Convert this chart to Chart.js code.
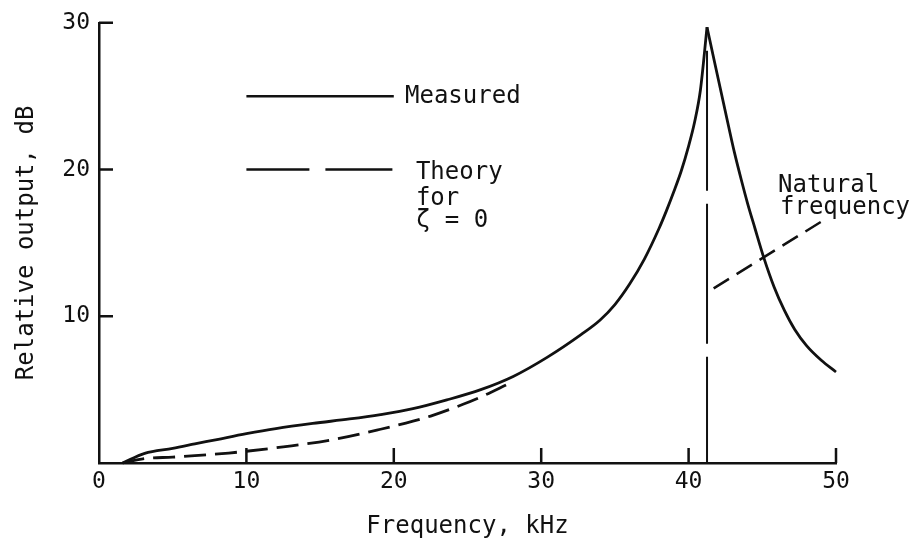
<!DOCTYPE html>
<html>
<head>
<meta charset="utf-8">
<script src="https://cdn.jsdelivr.net/npm/chart.js@4"></script>
<style>
  html, body { margin: 0; padding: 0; background: #fff; }
  #wrap { width: 913px; height: 545px; }
</style>
</head>
<body>
<div id="wrap"><canvas id="c" width="913" height="545"></canvas></div>
<script>
// ---- data ----
const measuredFreq = [1.6, 3.1, 5, 6.5, 8, 10, 12, 14.5, 17, 19.1, 21.3, 23.6, 25.9, 28.1, 30.4, 32.7, 34, 35, 36, 37, 38, 38.5, 39, 39.5, 40, 40.4, 40.8, 41.25,
                      41.7, 42.2, 42.7, 43.1, 43.6, 44.0, 44.5, 45.1, 45.8, 46.5, 47.2, 48.0, 49.0, 50.0];
const measuredDb   = [0, 0.66, 1.0, 1.3, 1.6, 2.0, 2.35, 2.7, 3.0, 3.3, 3.7, 4.3, 5.0, 5.9, 7.2, 8.75, 9.75, 10.8, 12.2, 13.9, 16.0, 17.2, 18.5, 19.9, 21.6, 23.2, 25.4, 29.7,
                      27.6, 25.3, 23.0, 21.2, 19.2, 17.7, 16.0, 14.0, 12.0, 10.4, 9.1, 8.0, 7.0, 6.2];
const theoryFreq   = [1.6, 3.1, 5, 6.5, 8.8, 10, 12.5, 15.7, 19.1, 21.3, 22.5, 24.7, 25.9, 27.8];
const theoryDb     = [0, 0.3, 0.4, 0.5, 0.68, 0.8, 1.1, 1.56, 2.3, 2.85, 3.2, 4.0, 4.5, 5.4];
const naturalFreq  = 41.25;
const naturalTop   = 28.1;
const leaderFreq   = [41.7, 49.4];
const leaderDb     = [11.9, 16.7];
const legendFreq   = [10, 20];
const legendMeasuredDb = 25;
const legendTheoryDb   = 20;
const xTicks = [0, 10, 20, 30, 40, 50];
const yTicks = [10, 20, 30];
const texts = [
  { t: "Measured",  x: 20.76, y: 24.97 },
  { t: "Theory",    x: 21.5,  y: 19.8 },
  { t: "for",       x: 21.5,  y: 18.0 },
  { t: "ζ = 0",     x: 21.5,  y: 16.5 },
  { t: "Natural",   x: 46.07, y: 18.9 },
  { t: "frequency", x: 46.2,  y: 17.4 }
];

// ---- build datasets ----
const pk = measuredDb.indexOf(Math.max(...measuredDb));
const pts = (xs, ys) => xs.map((x, i) => ({ x: x, y: ys[i] }));
const rise = pts(measuredFreq.slice(0, pk + 1), measuredDb.slice(0, pk + 1));
const fall = pts(measuredFreq.slice(pk), measuredDb.slice(pk));
const INK = '#111';
const FONT = "'DejaVu Sans Mono', 'Liberation Mono', monospace";

const base = { borderColor: INK, pointRadius: 0, fill: false, clip: false };

const innerTicks = {
  id: 'innerTicks',
  afterDraw(chart) {
    const { ctx, scales: { x, y } } = chart;
    ctx.save();
    ctx.strokeStyle = INK;
    ctx.lineWidth = 2.5;
    ctx.beginPath();
    xTicks.forEach(v => {
      if (v === 0) return;
      const px = x.getPixelForValue(v);
      ctx.moveTo(px, y.bottom);
      ctx.lineTo(px, y.bottom - 15);
    });
    yTicks.forEach(v => {
      const py = y.getPixelForValue(v);
      ctx.moveTo(x.left, py);
      ctx.lineTo(x.left + 14, py);
    });
    ctx.stroke();
    ctx.fillStyle = INK;
    ctx.font = "24px " + FONT;
    ctx.textAlign = 'left';
    ctx.textBaseline = 'middle';
    texts.forEach(o => {
      ctx.fillText(o.t, x.getPixelForValue(o.x), y.getPixelForValue(o.y));
    });
    ctx.restore();
  }
};

new Chart(document.getElementById('c'), {
  type: 'line',
  data: {
    datasets: [
      { ...base, data: rise, borderWidth: 2.8, cubicInterpolationMode: 'monotone' },
      { ...base, data: fall, borderWidth: 2.8, cubicInterpolationMode: 'monotone' },
      { ...base, data: pts(theoryFreq, theoryDb), borderWidth: 2.8, borderDash: [22, 9], cubicInterpolationMode: 'monotone' },
      { ...base, data: [{ x: naturalFreq, y: naturalTop }, { x: naturalFreq, y: 0 }], borderWidth: 2, borderDash: [140, 13] },
      { ...base, data: pts(leaderFreq, leaderDb), borderWidth: 2.5, borderDash: [18, 9] },
      { ...base, data: pts(legendFreq, [legendMeasuredDb, legendMeasuredDb]), borderWidth: 2.5 },
      { ...base, data: pts(legendFreq, [legendTheoryDb, legendTheoryDb]), borderWidth: 2.5, borderDash: [63, 16, 67, 16] }
    ]
  },
  options: {
    responsive: false,
    animation: false,
    events: [],
    layout: { padding: { left: 0, right: 77, top: 22, bottom: 0 } },
    plugins: { legend: { display: false }, tooltip: { enabled: false } },
    scales: {
      x: {
        type: 'linear', min: 0, max: 50,
        afterFit: s => { s.height = 82; },
        afterBuildTicks: s => { s.ticks = xTicks.map(v => ({ value: v })); },
        grid: { display: false, drawTicks: false },
        border: { display: true, color: INK, width: 2.5 },
        ticks: { color: INK, padding: 5, font: { family: FONT, size: 23, lineHeight: 1.2 }, maxRotation: 0 },
        title: { display: true, text: 'Frequency, kHz', color: INK, padding: { top: 0, bottom: 4 }, font: { family: FONT, size: 24, lineHeight: 1.2 } }
      },
      y: {
        type: 'linear', min: 0, max: 30,
        afterFit: s => { s.width = 99; },
        afterBuildTicks: s => { s.ticks = [0].concat(yTicks).map(v => ({ value: v })); },
        grid: { display: false, drawTicks: false },
        border: { display: true, color: INK, width: 2.5 },
        ticks: { color: INK, padding: 9, font: { family: FONT, size: 23, lineHeight: 1.2 }, callback: v => (v === 0 ? '' : String(v)) },
        title: { display: true, text: 'Relative output, dB', color: INK, padding: { top: 12, bottom: 0 }, font: { family: FONT, size: 24, lineHeight: 1.2 } }
      }
    }
  },
  plugins: [innerTicks]
});
</script>
</body>
</html>
